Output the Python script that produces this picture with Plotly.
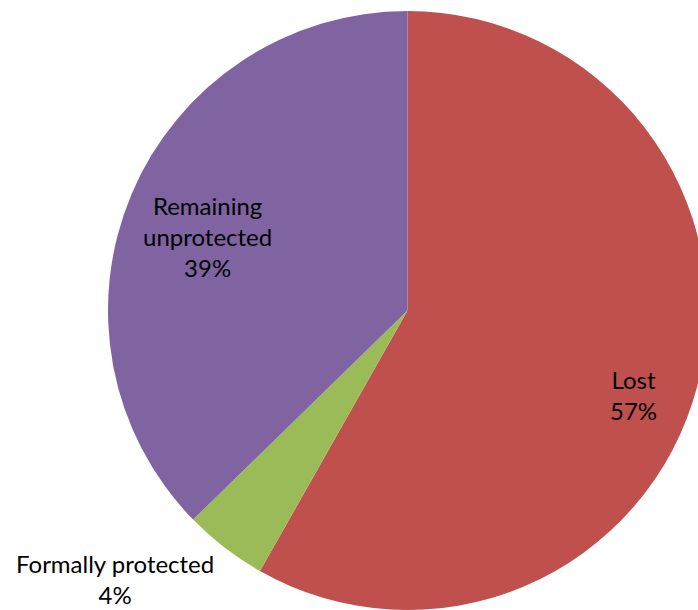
import plotly.graph_objects as go

# Data
categories = ["Lost", "Formally protected", "Remaining unprotected"]
slice_values = [58.2, 4.5, 37.3]
display_labels = ["Lost<br>57%", "Formally protected<br>4%", "Remaining<br>unprotected<br>39%"]
colors = ["#C0504D", "#9BBB59", "#8064A2"]

W, H = 710, 610

fig = go.Figure(
    go.Pie(
        labels=categories,
        values=slice_values,
        sort=False,
        direction="clockwise",
        rotation=0,
        marker=dict(colors=colors, line=dict(width=0)),
        textinfo="none",
        hoverinfo="label+percent",
        domain=dict(x=[108 / W, 707 / W], y=[0, 599 / H]),
        showlegend=False,
    )
)

label_pos = [(633, 395), (115, 579), (207, 236)]
for txt, (px, py) in zip(display_labels, label_pos):
    fig.add_annotation(
        text=txt,
        x=px / W,
        y=1 - py / H,
        xref="paper",
        yref="paper",
        xanchor="center",
        yanchor="middle",
        showarrow=False,
        font=dict(family="Lato", size=24, color="#000000"),
    )

fig.update_layout(
    width=W,
    height=H,
    margin=dict(l=0, r=0, t=0, b=0),
    paper_bgcolor="white",
    plot_bgcolor="white",
)

fig.write_html("out.html")
